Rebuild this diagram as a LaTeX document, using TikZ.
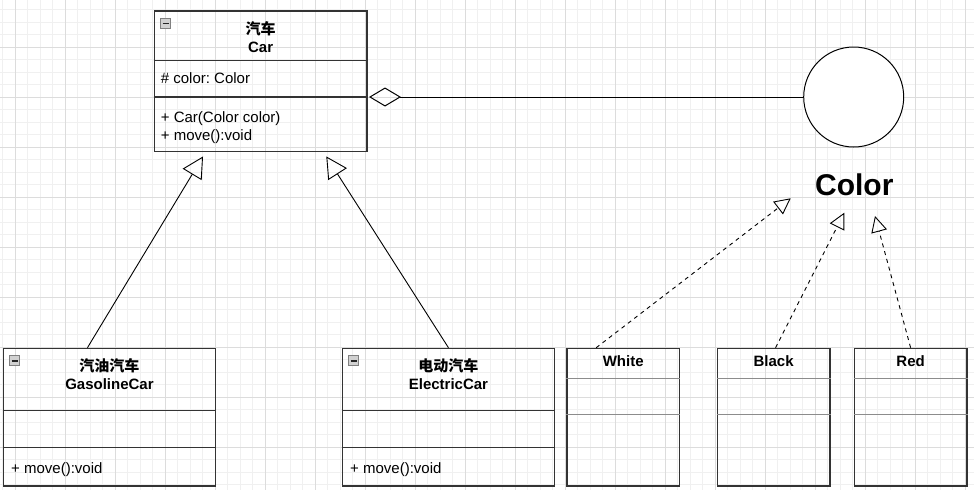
\documentclass[tikz,border=0pt]{standalone}
\usepackage{fontspec}
\setmainfont{Liberation Sans}
\newfontfamily\cjk{Noto Sans CJK SC}
\usetikzlibrary{calc,arrows.meta}
\frenchspacing

\definecolor{gridminor}{HTML}{F0F0F0}
\definecolor{gridmajor}{HTML}{DCDCDC}
\definecolor{boxline}{HTML}{333333}
\definecolor{sepgray}{HTML}{8C8C8C}

\begin{document}
\begin{tikzpicture}[x=1pt,y=-1pt,
    font=\fontsize{15}{17.5}\selectfont,
    classbox/.style={draw=boxline,line width=1.2pt,inner sep=0pt,anchor=north west},
    title/.style={font=\fontsize{15}{17.5}\selectfont\bfseries,align=center,inner sep=0pt},
    member/.style={anchor=west,align=left,inner sep=0pt},
    collapse/.style={draw=black!50,fill=black!18,line width=0.8pt,minimum size=10pt,inner sep=0pt,
        path picture={\draw[line width=1.6pt,black!85] ([xshift=2pt]path picture bounding box.west) -- ([xshift=-2pt]path picture bounding box.east);}},
    inherit/.style={-{Triangle[open,length=21pt,width=22pt]},line width=0.9pt,shorten >=5pt},
    realize/.style={-{Triangle[open,length=16pt,width=16pt]},line width=0.9pt,dash pattern=on 4pt off 4pt},
    aggr/.style={{Diamond[open,length=32pt,width=19pt]}-,line width=1pt}]
    \useasboundingbox (0,0) rectangle (974,490);
    \foreach \i in {0,...,77}
        \draw[gridminor,line width=1pt] (2.8+12.5*\i,0) -- (2.8+12.5*\i,490);
    \foreach \i in {0,...,38}
        \draw[gridminor,line width=1pt] (0,9.8+12.5*\i) -- (974,9.8+12.5*\i);
    \foreach \i in {0,...,19}
        \draw[gridmajor,line width=1pt] (15.3+50*\i,0) -- (15.3+50*\i,490);
    \foreach \i in {0,...,8}
        \draw[gridmajor,line width=1pt] (0,47.3+50*\i) -- (974,47.3+50*\i);

    % Car
    \node[classbox,minimum width=212.6pt,minimum height=140.7pt] (car) at (153.7,10.3) {};
    \draw[boxline,line width=1.2pt] ($(car.north west)+(0,50.4)$) -- ($(car.north east)+(0,50.4)$);
    \draw[boxline,line width=1.2pt] ($(car.north west)+(0,86.7)$) -- ($(car.north east)+(0,86.7)$);
    \node[collapse] (car btn) at ($(car.north west)+(12,13)$) {};
    \node[title] (car title) at ($(car.north)+(0,27)$) {{\cjk 汽车}\\Car};
    \node[member] (car attr) at ($(car.north west)+(7,68)$) {\# color: Color};
    \node[member] (car ops) at ($(car.north west)+(7,117.5)$) {+ Car(Color color)\\+ move():void};

    \foreach \n/\x/\cn/\en in {gas/2.7/汽油汽车/GasolineCar,elec/341.7/电动汽车/ElectricCar}{
        \node[classbox,minimum width=212.3pt,minimum height=137.6pt] (\n) at (\x,347.7) {};
        \draw[boxline,line width=1.2pt] ($(\n.north west)+(0,62.6)$) -- ($(\n.north east)+(0,62.6)$);
        \draw[boxline,line width=1.2pt] ($(\n.north west)+(0,100)$) -- ($(\n.north east)+(0,100)$);
        \node[collapse] (\n btn) at ($(\n.north west)+(12,13)$) {};
        \node[title] (\n title) at ($(\n.north)+(0,26.2)$) {{\cjk \cn}\\\en};
        \node[member] (\n ops) at ($(\n.north west)+(8.3,122.3)$) {+ move():void};
    }

    % Color
    \node[draw,circle,minimum size=100pt,line width=1pt,fill=white,inner sep=0pt] (colorcircle) at (853.7,97) {};
    \node[font=\fontsize{30}{36}\selectfont\bfseries] (colorname) at (854.3,185) {Color};
    \foreach \n/\x/\t in {colwhite/566.3/White,colblack/716.7/Black,colred/853.7/Red}{
        \node[classbox,minimum width=112.6pt,minimum height=137.6pt] (\n) at (\x,347.7) {};
        \draw[sepgray,line width=1pt] ($(\n.north west)+(0,30.6)$) -- ($(\n.north east)+(0,30.6)$);
        \draw[sepgray,line width=1pt] ($(\n.north west)+(0,66.6)$) -- ($(\n.north east)+(0,66.6)$);
        \node[title] (\n title) at ($(\n.north)+(0,13)$) {\t};
    }

    \draw[aggr] ($(car.north east)+(1.5,86.7)$) -- (colorcircle.west);
    \draw[inherit] ([xshift=-22pt]gas.north) -- ($(car.south)+(-55,0)$);
    \draw[inherit] (elec.north) -- ($(car.south)+(63,0)$);

    \coordinate (tipwhite) at (790.7,198.3);
    \coordinate (tipblack) at (844.3,212.7);
    \coordinate (tipred) at (875,216);
    \draw[realize] ([xshift=-27pt]colwhite.north) -- (tipwhite);
    \draw[realize] ([xshift=2pt]colblack.north) -- (tipblack);
    \draw[realize] (colred.north) -- (tipred);
\end{tikzpicture}
\end{document}
